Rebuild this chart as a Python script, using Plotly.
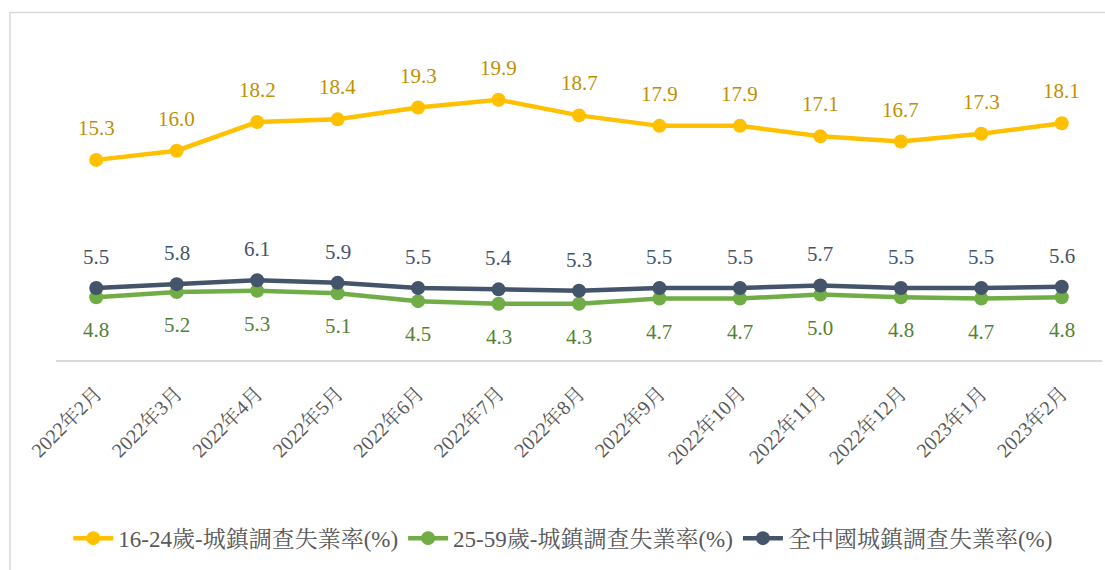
import plotly.graph_objects as go

months = ["2022年2月", "2022年3月", "2022年4月", "2022年5月", "2022年6月", "2022年7月",
          "2022年8月", "2022年9月", "2022年10月", "2022年11月", "2022年12月", "2023年1月", "2023年2月"]
youth = [15.3, 16.0, 18.2, 18.4, 19.3, 19.9, 18.7, 17.9, 17.9, 17.1, 16.7, 17.3, 18.1]
adult = [4.8, 5.2, 5.3, 5.1, 4.5, 4.3, 4.3, 4.7, 4.7, 5.0, 4.8, 4.7, 4.8]
total = [5.5, 5.8, 6.1, 5.9, 5.5, 5.4, 5.3, 5.5, 5.5, 5.7, 5.5, 5.5, 5.6]

names = ["16-24歲-城鎮調查失業率(%)", "25-59歲-城鎮調查失業率(%)", "全中國城鎮調查失業率(%)"]
line_colors = ["#FFC000", "#70AD47", "#44546A"]
label_colors = ["#BF9000", "#548235", "#44546A"]
label_shift = [32, -33, 31]

serif = "'Liberation Serif', 'Noto Serif CJK TC', 'Noto Sans CJK TC', serif"

fig = go.Figure()
annotations = []
for vals, name, lc, tc, sh in zip([youth, adult, total], names, line_colors, label_colors, label_shift):
    fig.add_trace(go.Scatter(
        x=months, y=vals, name=name, mode="lines+markers",
        line=dict(color=lc, width=4.5),
        marker=dict(color=lc, size=14),
        cliponaxis=False,
    ))
    for m, v in zip(months, vals):
        annotations.append(dict(x=m, y=v, text=f"{v:.1f}", showarrow=False, yshift=sh,
                                font=dict(family=serif, size=21, color=tc)))

fig.update_layout(
    width=1105, height=570,
    margin=dict(l=56, r=3, t=33, b=210, autoexpand=False),
    paper_bgcolor="white", plot_bgcolor="white",
    showlegend=True,
    annotations=annotations,
    legend=dict(orientation="h", x=0.485, xanchor="center", y=-0.545, yanchor="middle",
                font=dict(family=serif, size=23, color="#595959"),
                itemwidth=40, tracegroupgap=0, traceorder="normal"),
    xaxis=dict(type="category", range=[-0.5, 12.5], showgrid=False, showline=True,
               linecolor="#D9D9D9", linewidth=1.5, ticks="outside", ticklen=12, tickcolor="rgba(0,0,0,0)",
               tickangle=-45, automargin=False,
               tickfont=dict(family=serif, size=20, color="#595959")),
    yaxis=dict(range=[0, 25], visible=False, showgrid=False, automargin=False),
    shapes=[dict(type="rect", xref="paper", yref="paper", x0=-0.044, x1=1.05, y0=-0.8, y1=1.063,
                 line=dict(color="#D9D9D9", width=1.5), fillcolor="rgba(0,0,0,0)", layer="below")],
)

fig.write_html("out.html", config={"displayModeBar": False},
               post_script="document.body.style.margin='0';window.dispatchEvent(new Event('resize'));")
